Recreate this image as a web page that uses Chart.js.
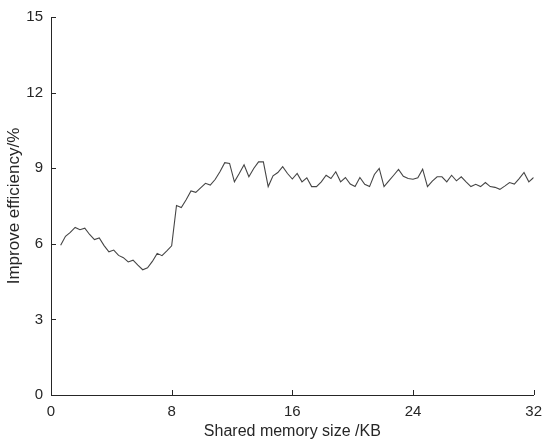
<!DOCTYPE html>
<html>
<head>
<meta charset="utf-8">
<script src="https://cdn.jsdelivr.net/npm/chart.js"></script>
<style>
  html, body { margin: 0; padding: 0; background: #fff; }
  #wrap { width: 550px; height: 446px; position: relative; }
</style>
</head>
<body>
<div id="wrap"><canvas id="chartCanvas"></canvas></div>
<script>
// shared memory size grid (KB): 0.64 .. 32 in steps of 0.32
const firstSize = 0.64;
const sizeStep = 0.32;

// improve efficiency (%)
const efficiency = [
  5.94, 6.30, 6.45, 6.65, 6.56, 6.62, 6.37, 6.17, 6.23, 5.93,
  5.68, 5.75, 5.54, 5.45, 5.28, 5.35, 5.15, 4.97, 5.05, 5.30,
  5.62, 5.53, 5.72, 5.92, 7.52, 7.44, 7.75, 8.10, 8.04, 8.22,
  8.40, 8.33, 8.55, 8.86, 9.22, 9.19, 8.46, 8.79, 9.14, 8.66,
  8.99, 9.25, 9.25, 8.27, 8.70, 8.83, 9.06, 8.79, 8.57, 8.79,
  8.46, 8.62, 8.27, 8.27, 8.46, 8.72, 8.59, 8.86, 8.46, 8.63,
  8.37, 8.27, 8.63, 8.36, 8.27, 8.75, 8.99, 8.27, 8.50, 8.72,
  8.95, 8.68, 8.59, 8.56, 8.62, 8.96, 8.27, 8.49, 8.66, 8.66,
  8.46, 8.72, 8.50, 8.66, 8.46, 8.27, 8.36, 8.27, 8.43, 8.27,
  8.24, 8.16, 8.29, 8.43, 8.37, 8.59, 8.83, 8.46, 8.63
];

const xTicks = [0, 8, 16, 24, 32];
const yTicks = [0, 3, 6, 9, 12, 15];

const sizes = efficiency.map((_, i) => +(firstSize + i * sizeStep).toFixed(2));
const points = efficiency.map((v, i) => ({ x: sizes[i], y: v }));

const axisColor = "#262626";
const fontFamily = "'Liberation Sans', Arial, sans-serif";

// MATLAB-style inward tick marks
const innerTicks = {
  id: "innerTicks",
  afterDraw(chart) {
    const ctx = chart.ctx;
    const area = chart.chartArea;
    const xs = chart.scales.x, ys = chart.scales.y;
    const len = 5;
    ctx.save();
    ctx.strokeStyle = axisColor;
    ctx.lineWidth = 1;
    ctx.beginPath();
    xTicks.forEach(t => {
      const px = Math.round(xs.getPixelForValue(t)) + 0.5;
      ctx.moveTo(px, area.bottom);
      ctx.lineTo(px, area.bottom - len);
    });
    yTicks.forEach(t => {
      const py = Math.round(ys.getPixelForValue(t)) + 0.5;
      ctx.moveTo(area.left, py);
      ctx.lineTo(area.left + len, py);
    });
    ctx.stroke();
    ctx.restore();
  }
};

new Chart(document.getElementById("chartCanvas"), {
  type: "line",
  data: {
    datasets: [{
      data: points,
      borderColor: "#454545",
      borderWidth: 1.1,
      pointRadius: 0,
      tension: 0,
      fill: false
    }]
  },
  options: {
    responsive: true,
    maintainAspectRatio: false,
    animation: false,
    layout: { padding: { top: 14, right: 14, left: 0, bottom: 0 } },
    plugins: { legend: { display: false }, tooltip: { enabled: false } },
    scales: {
      x: {
        type: "linear",
        min: 0, max: 32,
        afterBuildTicks: s => { s.ticks = xTicks.map(v => ({ value: v })); },
        afterFit: s => { s.height = 51; },
        border: { display: true, color: axisColor, width: 1 },
        grid: { display: false, drawTicks: false },
        ticks: { color: axisColor, padding: 8, font: { family: fontFamily, size: 15 }, maxRotation: 0 },
        title: {
          display: true, text: "Shared memory size /KB", color: axisColor,
          font: { family: fontFamily, size: 16 }, padding: { top: 4, bottom: 5 }
        }
      },
      y: {
        min: 0, max: 15,
        afterBuildTicks: s => { s.ticks = yTicks.map(v => ({ value: v })); },
        afterFit: s => { s.width = 51; },
        border: { display: true, color: axisColor, width: 1 },
        grid: { display: false, drawTicks: false },
        ticks: { color: axisColor, padding: 8, font: { family: fontFamily, size: 15 } },
        title: {
          display: true, text: "Improve efficiency/%", color: axisColor,
          font: { family: fontFamily, size: 17 }, padding: { top: 4, bottom: 2 }
        }
      }
    }
  },
  plugins: [innerTicks]
});
</script>
</body>
</html>
